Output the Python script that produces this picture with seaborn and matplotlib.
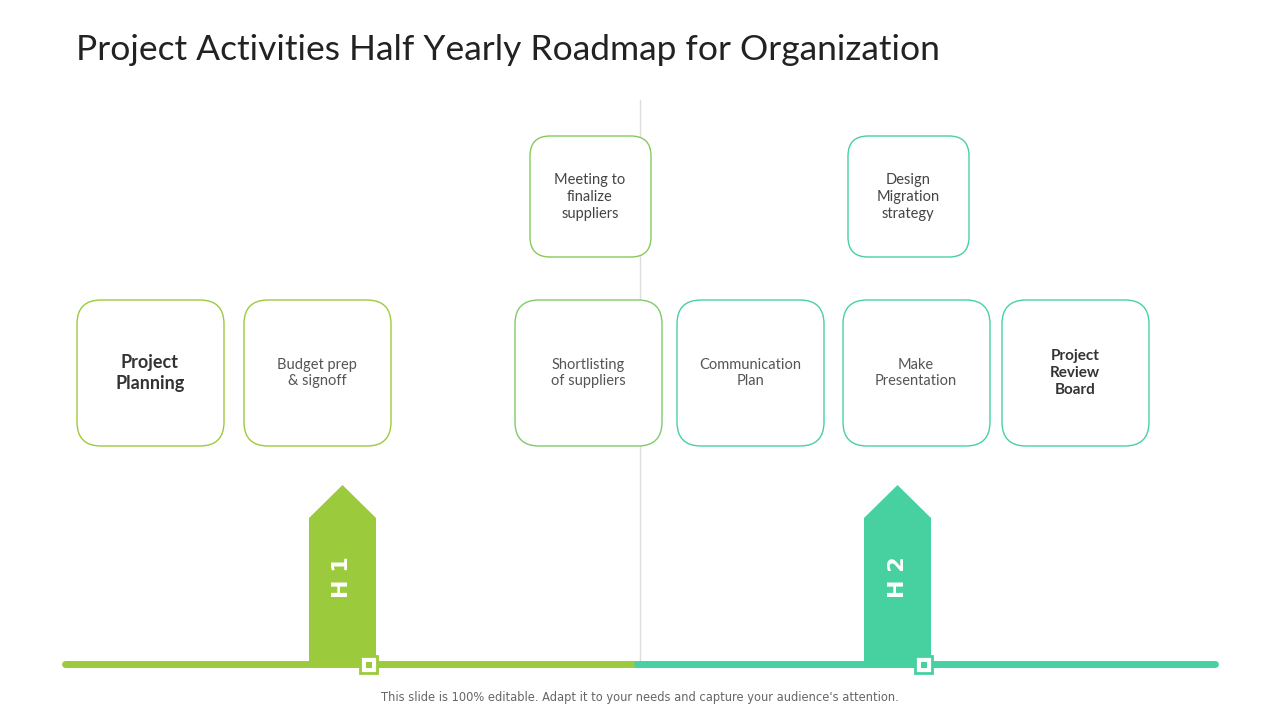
import matplotlib
matplotlib.use("Agg")
import matplotlib.pyplot as plt
from matplotlib.patches import FancyBboxPatch, Polygon, Rectangle
import seaborn as sns

sns.set_theme(style="white")

title = "Project Activities Half Yearly Roadmap for Organization"
footer = "This slide is 100% editable. Adapt it to your needs and capture your audience's attention."
row_labels = ["Project\nPlanning", "Budget prep\n& signoff", "Shortlisting\nof suppliers",
              "Communication\nPlan", "Make\nPresentation", "Project\nReview\nBoard"]
row_bold = [True, False, False, False, False, True]
top_labels = ["Meeting to\nfinalize\nsuppliers", "Design\nMigration\nstrategy"]
halves = ["H 1", "H 2"]

GREEN = "#9BCB3C"
TEAL = "#48D1A0"
row_x = [77, 244, 515, 677, 843, 1002]
row_col = [GREEN, GREEN, "#7FCB6A", TEAL, TEAL, TEAL]
top_x = [530, 848]
top_col = ["#86CA5A", TEAL]
arrow_x = [309, 864]
half_col = [GREEN, TEAL]

fig = plt.figure(figsize=(12.8, 7.2), dpi=100)
ax = fig.add_axes([0, 0, 1, 1])
ax.set_xlim(0, 1280)
ax.set_ylim(720, 0)
ax.axis("off")

ax.text(76, 50, title, fontsize=25.5, color="#222222", va="center", ha="left", family="Lato")
ax.plot([640, 640], [100, 664], color="#DDDDDD", lw=1, zorder=0)

r = 24
for lab, x, c, b in zip(row_labels, row_x, row_col, row_bold):
    ax.add_patch(FancyBboxPatch((x + r, 300 + r), 147 - 2 * r, 146 - 2 * r,
                 boxstyle=f"round,pad={r}", fc="white", ec=c, lw=1.0, zorder=2))
    ax.text(x + 73, 373, lab, ha="center", va="center", zorder=3, family="Lato",
            fontsize=13 if b and "Planning" in lab else (11 if b else 10.5),
            fontweight="bold" if b else "normal", color="#333333" if b else "#555555",
            linespacing=1.25)
r2 = 20
for lab, x, c in zip(top_labels, top_x, top_col):
    ax.add_patch(FancyBboxPatch((x + r2, 136 + r2), 121 - 2 * r2, 121 - 2 * r2,
                 boxstyle=f"round,pad={r2}", fc="white", ec=c, lw=1.0, zorder=2))
    ax.text(x + 60, 197, lab, ha="center", va="center", zorder=3, family="Lato",
            fontsize=10.5, color="#444444", linespacing=1.25)

ax.plot([65, 637], [664, 664], color=GREEN, lw=5, solid_capstyle="round", zorder=1)
ax.plot([637, 1215], [664, 664], color=TEAL, lw=5, solid_capstyle="round", zorder=1)

for h, x, c in zip(halves, arrow_x, half_col):
    w = 67
    ax.add_patch(Polygon([(x, 664), (x, 518), (x + w / 2, 485), (x + w, 518), (x + w, 664)],
                         closed=True, fc=c, ec="none", zorder=2))
    ax.text(x + w / 2, 577, h, rotation=90, ha="center", va="center", color="white",
            fontsize=16, fontweight="bold", zorder=3)
    ax.add_patch(Rectangle((x + 51, 656), 17, 17, fc="white", ec=c, lw=2, zorder=4))
    ax.add_patch(Rectangle((x + 56.5, 661.5), 6, 6, fc=c, ec="none", zorder=5))

ax.text(640, 697, footer, ha="center", va="center", fontsize=8.3, color="#666666")
fig.savefig("out.png", dpi=100)
